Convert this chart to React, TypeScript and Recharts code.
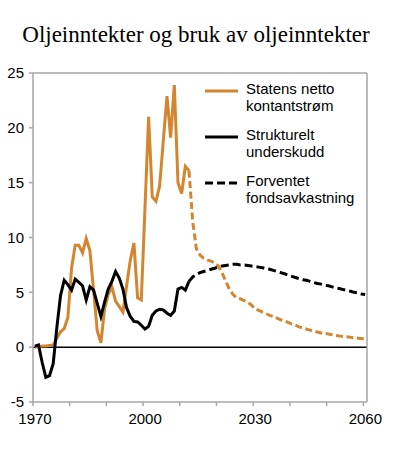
import React from 'react';
import { LineChart, Line, XAxis, YAxis, ReferenceLine } from 'recharts';

// Statens netto kontantstrøm, 1970–2012 (historikk)
const netCashFlow = [
  0.0, 0.05, 0.1, 0.1, 0.15, 0.2, 0.8, 1.4, 1.7, 2.7,
  7.2, 9.3, 9.3, 8.6, 9.9, 8.8, 5.2, 1.5, 0.4, 3.5,
  4.8, 5.5, 4.2, 3.7, 3.2, 5.6, 7.9, 9.5, 4.5, 4.3,
  12.6, 21.0, 13.7, 13.3, 14.7, 18.8, 22.9, 19.1, 23.9, 15.0,
  14.0, 16.5, 16.1,
];

// Statens netto kontantstrøm, 2012–2060 (framskriving)
const netCashFlowProj = [
  16.1, 11.5, 9.0, 8.4, 8.1, 7.95, 7.85, 7.7, 7.4, 6.8,
  6.0, 5.3, 4.8, 4.5, 4.4, 4.25, 4.1, 3.85, 3.5, 3.35,
  3.2, 3.05, 2.9, 2.8, 2.65, 2.5, 2.4, 2.25, 2.1, 2.0,
  1.85, 1.75, 1.65, 1.55, 1.45, 1.38, 1.3, 1.25, 1.2, 1.13,
  1.07, 1.02, 0.98, 0.95, 0.9, 0.86, 0.82, 0.78, 0.75,
];

// Strukturelt underskudd, 1970–2012
const structDeficit = [
  0.1, 0.2, -1.4, -2.75, -2.6, -1.5, 1.8, 4.7, 6.1, 5.7,
  5.2, 6.2, 5.9, 5.6, 4.3, 5.5, 5.2, 4.0, 2.8, 4.1,
  5.3, 6.0, 6.9, 6.3, 5.3, 3.6, 2.8, 2.35, 2.3, 2.0,
  1.65, 1.9, 2.9, 3.3, 3.45, 3.4, 3.1, 2.9, 3.3, 5.3,
  5.45, 5.2, 6.0,
];

// Forventet fondsavkastning, 2012–2060
const expectedReturn = [
  6.0, 6.4, 6.6, 6.8, 6.9, 7.0, 7.1, 7.2, 7.3, 7.4,
  7.45, 7.5, 7.55, 7.55, 7.5, 7.5, 7.45, 7.4, 7.35, 7.3,
  7.25, 7.15, 7.1, 7.0, 6.9, 6.8, 6.7, 6.55, 6.45, 6.35,
  6.25, 6.15, 6.1, 6.0, 5.9, 5.8, 5.75, 5.65, 5.6, 5.5,
  5.4, 5.35, 5.25, 5.2, 5.1, 5.0, 4.95, 4.85, 4.8,
];

const FIRST_YEAR = 1970;
const PROJ_START = 2012;
const LAST_YEAR = 2060;
const yearLabels = ['1970', '2000', '2030', '2060'];
const yTicks = [-5, 0, 5, 10, 15, 20, 25];

const ORANGE = '#D3862F';
const AXIS = '#A6A6A6';
const FONT = '"Liberation Sans", Arial, sans-serif';

const years = Array.from({ length: LAST_YEAR - FIRST_YEAR + 1 }, (_, i) => FIRST_YEAR + i);

const data = years.map((year) => {
  const h = year - FIRST_YEAR;
  const p = year - PROJ_START;
  return {
    year,
    netCashFlow: h < netCashFlow.length ? netCashFlow[h] : null,
    structDeficit: h < structDeficit.length ? structDeficit[h] : null,
    netCashFlowProj: p >= 0 ? netCashFlowProj[p] : null,
    expectedReturn: p >= 0 ? expectedReturn[p] : null,
  };
});

// category boundaries every ten years (Excel-style axis between categories)
const xTicks = years.filter((y) => (y - FIRST_YEAR) % 10 === 0).map((y) => y - 0.5);

const RightTick = (props: any) => {
  const { x, y, payload } = props;
  return (
    <text x={x + 15} y={y} dy="0.355em" textAnchor="end" fill="#000" fontSize={15} fontFamily={FONT}>
      {payload.value}
    </text>
  );
};

const legendItems = [
  { label: ['Statens netto', 'kontantstrøm'], color: ORANGE, dash: undefined, top: 80 },
  { label: ['Strukturelt', 'underskudd'], color: '#000', dash: undefined, top: 126 },
  { label: ['Forventet', 'fondsavkastning'], color: '#000', dash: '8 4', top: 172 },
];

export default function App() {
  return (
    <div style={{ position: 'relative', width: 400, height: 467, background: '#fff' }}>
      <style>{'body{margin:0}'}</style>
      <div
        style={{
          position: 'absolute',
          top: 22,
          left: 0,
          width: 392,
          textAlign: 'center',
          fontFamily: '"Liberation Serif", "Times New Roman", serif',
          fontSize: 23,
          color: '#000',
        }}
      >
        Oljeinntekter og bruk av oljeinntekter
      </div>
      <LineChart width={400} height={467} data={data} margin={{ top: 73, right: 0, bottom: 35, left: 0 }}>
        <XAxis
          dataKey="year"
          type="number"
          domain={[FIRST_YEAR - 0.5, LAST_YEAR + 0.5]}
          ticks={xTicks}
          interval={0}
          tickFormatter={(v: number) => {
            const s = String(Math.round(v + 0.5));
            return yearLabels.includes(s) ? s : '';
          }}
          height={30}
          tickSize={4}
          tickMargin={7}
          dx={2}
          stroke={AXIS}
          strokeWidth={1.5}
          tick={{ fill: '#000', fontSize: 15, fontFamily: FONT }}
        />
        <YAxis
          yAxisId="left"
          domain={[-5, 25]}
          ticks={yTicks}
          width={33}
          tickSize={4}
          tickMargin={5}
          stroke={AXIS}
          strokeWidth={1.5}
          tick={{ fill: '#000', fontSize: 15, fontFamily: FONT }}
        />
        <YAxis
          yAxisId="right"
          orientation="right"
          domain={[-5, 25]}
          ticks={yTicks}
          width={33}
          tickSize={4}
          tickMargin={2}
          stroke={AXIS}
          strokeWidth={1.5}
          tick={<RightTick />}
        />
        <ReferenceLine yAxisId="left" y={25} stroke={AXIS} strokeWidth={1.5} />
        <ReferenceLine yAxisId="left" y={0} stroke="#000" strokeWidth={1.5} />
        <Line
          yAxisId="left"
          dataKey="netCashFlowProj"
          stroke={ORANGE}
          strokeWidth={3}
          strokeDasharray="7 3.5"
          dot={false}
          isAnimationActive={false}
          connectNulls={false}
        />
        <Line
          yAxisId="left"
          dataKey="expectedReturn"
          stroke="#000"
          strokeWidth={3}
          strokeDasharray="8 4"
          dot={false}
          isAnimationActive={false}
        />
        <Line
          yAxisId="left"
          dataKey="netCashFlow"
          stroke={ORANGE}
          strokeWidth={3}
          dot={false}
          isAnimationActive={false}
        />
        <Line
          yAxisId="left"
          dataKey="structDeficit"
          stroke="#000"
          strokeWidth={3}
          dot={false}
          isAnimationActive={false}
        />
      </LineChart>
      {legendItems.map((item) => (
        <div key={item.label[0]} style={{ position: 'absolute', left: 205, top: item.top, width: 160 }}>
          <svg width={34} height={8} style={{ position: 'absolute', left: 0, top: 7 }}>
            <line x1={0} y1={4} x2={33} y2={4} stroke={item.color} strokeWidth={3} strokeDasharray={item.dash} />
          </svg>
          <div
            style={{
              position: 'absolute',
              left: 41,
              top: 0,
              fontFamily: FONT,
              fontSize: 15,
              lineHeight: '17px',
              color: '#000',
              whiteSpace: 'nowrap',
            }}
          >
            {item.label[0]}
            <br />
            {item.label[1]}
          </div>
        </div>
      ))}
    </div>
  );
}
